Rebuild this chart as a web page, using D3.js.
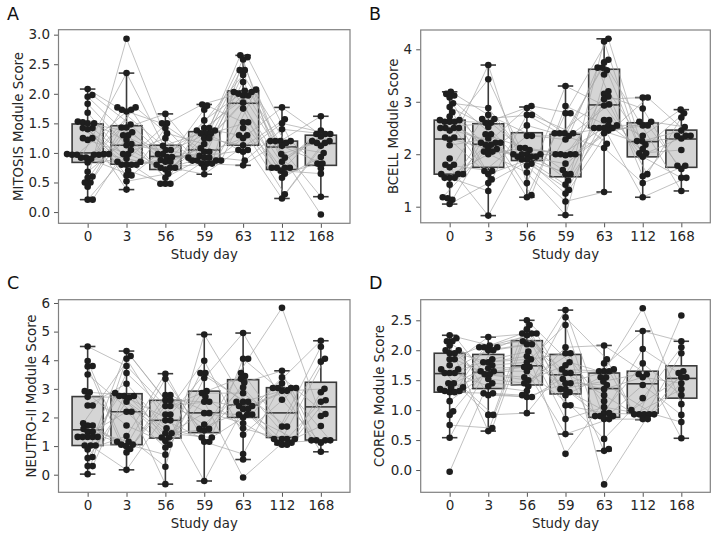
<!DOCTYPE html>
<html>
<head>
<meta charset="utf-8">
<script src="https://cdn.jsdelivr.net/npm/d3@7"></script>
<style>
  html, body { margin: 0; padding: 0; background: #fff; }
  svg { display: block; font-family: "DejaVu Sans", sans-serif; }
</style>
</head>
<body>
<svg id="chart" width="716" height="536"></svg>
<script>
// ---------------- data ----------------
const days = ["0", "3", "56", "59", "63", "112", "168"];

// box statistics per day: [lower whisker, Q1, median, Q3, upper whisker]
const mitosisBox = [
  [0.21, 0.84, 1.00, 1.49, 2.08], [0.38, 0.81, 1.13, 1.46, 2.35], [0.47, 0.72, 0.94, 1.13, 1.66],
  [0.64, 0.85, 1.05, 1.36, 1.82], [0.79, 1.13, 1.84, 2.05, 2.65], [0.23, 0.72, 1.10, 1.20, 1.77],
  [0.26, 0.79, 1.16, 1.30, 1.62]
];
const bcellBox = [
  [1.05, 1.62, 2.29, 2.65, 3.19], [0.83, 1.75, 2.19, 2.58, 3.70], [1.18, 1.88, 2.00, 2.41, 2.90],
  [0.84, 1.57, 1.99, 2.38, 3.30], [1.28, 2.50, 2.94, 3.62, 4.20], [1.18, 1.95, 2.24, 2.60, 3.08],
  [1.30, 1.75, 2.29, 2.46, 2.85]
];
const neutroBox = [
  [0.02, 1.02, 1.57, 2.73, 4.48], [0.17, 1.05, 2.20, 2.83, 4.32], [-0.33, 1.28, 1.90, 2.60, 3.53],
  [-0.22, 1.47, 2.16, 2.92, 4.90], [0.53, 2.00, 2.44, 3.32, 4.95], [1.05, 1.30, 2.16, 3.04, 3.63],
  [0.80, 1.21, 2.37, 3.23, 4.68]
];
const coregBox = [
  [0.54, 1.30, 1.61, 1.95, 2.25], [0.65, 1.36, 1.63, 1.93, 2.22], [0.95, 1.42, 1.74, 2.16, 2.50],
  [0.60, 1.27, 1.59, 1.93, 2.67], [0.32, 0.88, 1.36, 1.62, 2.08], [0.84, 0.95, 1.44, 1.65, 2.32],
  [0.53, 1.20, 1.53, 1.74, 2.15]
];

// individual subject scores per day
const mitosisPoints = [
  [2.08, 1.98, 1.95, 1.83, 1.68, 1.53, 1.52, 1.50, 1.50, 1.42, 1.42, 1.40, 1.25, 1.25, 1.22, 0.98, 0.98, 0.98, 0.97, 0.97, 0.97, 0.97, 0.92, 0.92, 0.90, 0.84, 0.68, 0.60, 0.58, 0.50, 0.50, 0.43, 0.21, 0.21],
  [2.93, 2.35, 1.77, 1.77, 1.73, 1.73, 1.70, 1.48, 1.43, 1.43, 1.35, 1.30, 1.30, 1.22, 1.15, 1.13, 1.05, 0.98, 0.98, 0.90, 0.85, 0.85, 0.80, 0.80, 0.80, 0.80, 0.70, 0.62, 0.62, 0.52, 0.38],
  [1.66, 1.50, 1.50, 1.42, 1.33, 1.25, 1.12, 1.05, 1.05, 0.98, 0.98, 0.93, 0.93, 0.88, 0.85, 0.85, 0.80, 0.75, 0.75, 0.75, 0.72, 0.65, 0.58, 0.48, 0.48, 0.48],
  [1.82, 1.80, 1.73, 1.55, 1.42, 1.42, 1.38, 1.38, 1.33, 1.33, 1.33, 1.25, 1.25, 1.15, 1.08, 1.02, 1.02, 0.95, 0.92, 0.92, 0.92, 0.87, 0.87, 0.87, 0.87, 0.82, 0.82, 0.82, 0.75, 0.64],
  [2.65, 2.62, 2.58, 2.40, 2.40, 2.32, 2.20, 2.07, 2.05, 2.03, 2.03, 2.00, 1.97, 1.97, 1.85, 1.75, 1.52, 1.52, 1.42, 1.30, 1.30, 1.25, 1.13, 1.05, 1.05, 1.02, 0.87, 0.79],
  [1.77, 1.57, 1.50, 1.40, 1.20, 1.20, 1.20, 1.20, 1.17, 1.12, 0.98, 0.92, 0.85, 0.75, 0.75, 0.75, 0.75, 0.70, 0.65, 0.58, 0.30, 0.23],
  [1.62, 1.38, 1.32, 1.32, 1.32, 1.28, 1.20, 1.20, 1.17, 1.17, 1.12, 1.00, 0.93, 0.82, 0.82, 0.74, 0.65, 0.26, -0.04]
];
const bcellPoints = [
  [3.19, 3.15, 3.12, 3.08, 2.97, 2.90, 2.80, 2.72, 2.65, 2.65, 2.62, 2.62, 2.62, 2.50, 2.50, 2.50, 2.50, 2.45, 2.32, 2.32, 2.28, 2.17, 1.92, 1.80, 1.80, 1.75, 1.62, 1.62, 1.62, 1.55, 1.55, 1.55, 1.42, 1.18, 1.16, 1.13, 1.05],
  [3.70, 3.43, 2.88, 2.75, 2.67, 2.67, 2.60, 2.60, 2.52, 2.38, 2.38, 2.30, 2.22, 2.22, 2.22, 2.18, 2.18, 2.10, 2.10, 2.05, 2.05, 2.00, 1.68, 1.68, 1.62, 1.52, 1.45, 1.30, 0.83],
  [2.92, 2.88, 2.75, 2.75, 2.55, 2.35, 2.35, 2.12, 2.12, 2.08, 2.00, 2.00, 2.00, 2.00, 1.95, 1.95, 1.95, 1.90, 1.90, 1.82, 1.78, 1.65, 1.45, 1.22, 1.18],
  [3.30, 2.92, 2.78, 2.78, 2.40, 2.40, 2.40, 2.40, 2.35, 2.28, 2.00, 2.00, 2.00, 2.00, 1.98, 1.82, 1.70, 1.62, 1.62, 1.50, 1.42, 1.32, 1.25, 1.10, 0.84],
  [4.20, 4.15, 3.80, 3.75, 3.65, 3.65, 3.60, 3.52, 3.20, 3.15, 3.10, 3.05, 2.95, 2.93, 2.65, 2.65, 2.55, 2.55, 2.50, 2.50, 2.50, 2.50, 2.45, 2.40, 2.20, 2.12, 1.28],
  [3.08, 3.08, 2.87, 2.62, 2.62, 2.55, 2.55, 2.35, 2.25, 2.25, 2.18, 2.10, 2.02, 2.02, 1.95, 1.62, 1.58, 1.45, 1.18],
  [2.85, 2.78, 2.70, 2.52, 2.45, 2.35, 2.35, 2.35, 2.30, 2.08, 1.78, 1.78, 1.72, 1.55, 1.55, 1.30]
];
const neutroPoints = [
  [4.48, 3.97, 3.80, 3.78, 3.50, 2.92, 2.88, 2.72, 2.42, 2.42, 1.80, 1.72, 1.72, 1.60, 1.50, 1.50, 1.32, 1.32, 1.32, 1.32, 1.32, 1.02, 1.02, 1.02, 0.88, 0.62, 0.58, 0.30, 0.30, 0.02],
  [4.32, 4.15, 4.05, 3.80, 3.55, 3.18, 2.85, 2.75, 2.75, 2.75, 2.70, 2.55, 2.20, 2.20, 1.72, 1.35, 1.15, 1.15, 1.05, 1.05, 1.00, 0.90, 0.78, 0.17],
  [3.53, 3.35, 2.78, 2.78, 2.60, 2.60, 2.40, 2.40, 2.10, 2.10, 1.90, 1.90, 1.62, 1.45, 1.45, 1.30, 1.30, 1.18, 1.05, 0.95, 0.70, 0.28, -0.33],
  [4.90, 3.98, 3.55, 3.55, 3.38, 2.92, 2.85, 2.72, 2.55, 2.55, 2.15, 2.15, 1.75, 1.60, 1.60, 1.55, 1.30, 1.30, 1.15, 1.15, -0.22],
  [4.95, 4.05, 4.05, 3.55, 3.45, 3.35, 3.22, 3.05, 2.85, 2.55, 2.55, 2.55, 2.40, 2.40, 2.30, 2.30, 2.10, 2.10, 2.10, 2.00, 1.80, 1.62, 1.40, 0.72, 0.53, -0.10],
  [5.83, 3.63, 3.40, 3.19, 3.03, 3.03, 3.03, 3.03, 2.93, 2.93, 2.62, 1.68, 1.68, 1.25, 1.25, 1.25, 1.25, 1.12, 1.12, 1.05, 1.05],
  [4.68, 4.47, 4.05, 3.95, 3.00, 2.88, 2.60, 2.55, 2.12, 2.05, 1.70, 1.20, 1.20, 1.20, 1.20, 1.12, 0.80]
];
const coregPoints = [
  [2.25, 2.20, 2.15, 2.15, 2.08, 2.00, 2.00, 1.95, 1.95, 1.85, 1.85, 1.75, 1.68, 1.68, 1.62, 1.62, 1.62, 1.45, 1.45, 1.38, 1.38, 1.35, 1.32, 1.32, 1.30, 1.30, 1.15, 0.98, 0.92, 0.75, 0.54, -0.03],
  [2.22, 2.08, 2.05, 2.05, 2.05, 2.00, 2.00, 1.85, 1.80, 1.80, 1.75, 1.70, 1.65, 1.65, 1.60, 1.60, 1.52, 1.45, 1.40, 1.28, 1.28, 1.25, 0.92, 0.92, 0.70, 0.65],
  [2.50, 2.42, 2.35, 2.28, 2.28, 2.28, 2.25, 2.15, 2.10, 2.10, 1.98, 1.90, 1.85, 1.80, 1.72, 1.72, 1.65, 1.55, 1.50, 1.45, 1.40, 1.32, 1.25, 1.22, 1.22, 0.95],
  [2.67, 2.55, 2.42, 2.05, 1.95, 1.95, 1.80, 1.75, 1.68, 1.62, 1.62, 1.52, 1.45, 1.45, 1.35, 1.35, 1.30, 1.25, 1.08, 1.08, 0.85, 0.60, 0.27],
  [2.08, 1.85, 1.78, 1.68, 1.65, 1.65, 1.65, 1.55, 1.55, 1.48, 1.42, 1.35, 1.25, 1.15, 1.05, 0.95, 0.95, 0.90, 0.90, 0.90, 0.85, 0.85, 0.52, 0.35, 0.32, -0.24],
  [2.70, 2.32, 2.02, 1.78, 1.60, 1.60, 1.55, 1.42, 1.20, 1.00, 0.93, 0.93, 0.93, 0.93, 0.93, 0.85, 0.85],
  [2.58, 2.15, 2.05, 1.95, 1.65, 1.62, 1.55, 1.55, 1.45, 1.35, 1.25, 1.10, 0.92, 0.80, 0.53]
];

const panelLetters = ["A", "B", "C", "D"];
const yLabels = ["MITOSIS Module Score", "BCELL Module Score", "NEUTRO-II Module Score", "COREG Module Score"];
const yTickValues = [
  [0, 0.5, 1, 1.5, 2, 2.5, 3],
  [1, 2, 3, 4],
  [0, 1, 2, 3, 4, 5, 6],
  [0, 0.5, 1, 1.5, 2, 2.5]
];
const yTickFormats = [".1f", "d", "d", ".1f"];
const yDomains = [[-0.19, 3.084], [0.693, 4.368], [-0.615, 6.115], [-0.372, 2.844]];

// ---------------- layout ----------------
const panels = [
  { box: mitosisBox, pts: mitosisPoints, x0: 58.5, x1: 350, y0: 29.7, y1: 223.3, letterX: 7, letterY: 19.5, labelX: 18.3, mult: 7 },
  { box: bcellBox, pts: bcellPoints, x0: 420.7, x1: 710.3, y0: 30, y1: 222.8, letterX: 369, letterY: 19.5, labelX: 393, mult: 5 },
  { box: neutroBox, pts: neutroPoints, x0: 58.5, x1: 350, y0: 299.7, y1: 492.3, letterX: 7, letterY: 288.5, labelX: 31.5, mult: 7 },
  { box: coregBox, pts: coregPoints, x0: 420.7, x1: 710.3, y0: 299.7, y1: 492.3, letterX: 369, letterY: 288.5, labelX: 379.3, mult: 5 }
];

const svg = d3.select("#chart");
const R = 3.3;        // marker radius
const D = 5.0;        // swarm collision distance
const textColor = "#262626";
const frameColor = "#808080";
const boxStroke = "#3a3a3a";

function gcd(a, b) { return b === 0 ? a : gcd(b, a % b); }

function swarm(vals, cx, y) {
  const pts = vals.map((v, i) => ({ v, i, y: y(v), dx: 0 }));
  const order = pts.slice().sort((a, b) => b.y - a.y);
  const placed = [];
  order.forEach(p => {
    const cands = [0];
    placed.forEach(q => {
      const dy = Math.abs(q.y - p.y);
      if (dy < D) {
        const dx = Math.sqrt(D * D - dy * dy);
        cands.push(q.dx + dx, q.dx - dx);
      }
    });
    cands.sort((a, b) => Math.abs(a) - Math.abs(b));
    for (const c of cands) {
      let ok = true;
      for (const q of placed) {
        const ddx = q.dx - c, ddy = q.y - p.y;
        if (ddx * ddx + ddy * ddy < D * D - 1e-6) { ok = false; break; }
      }
      if (ok) { p.dx = c; break; }
    }
    placed.push(p);
  });
  return pts.map(p => ({ v: p.v, x: cx + p.dx, y: p.y }));
}

panels.forEach((P, pi) => {
  const g = svg.append("g");
  const x = d3.scalePoint().domain(days).range([P.x0, P.x1]).padding(0.75);
  const y = d3.scaleLinear().domain(yDomains[pi]).range([P.y1, P.y0]);
  const step = x.step();
  const bw = step * 0.8;

  // axes
  const yAxis = d3.axisLeft(y).tickValues(yTickValues[pi]).tickFormat(d3.format(yTickFormats[pi])).tickSize(4.5).tickPadding(4);
  const xAxis = d3.axisBottom(x).tickSize(4.5).tickPadding(4);
  const ya = g.append("g").attr("transform", `translate(${P.x0},0)`).call(yAxis);
  const xa = g.append("g").attr("transform", `translate(0,${P.y1})`).call(xAxis);
  [ya, xa].forEach(a => {
    a.select(".domain").remove();
    a.selectAll(".tick line").attr("stroke", "#555").attr("stroke-width", 1);
    a.selectAll(".tick text").attr("fill", textColor).style("font-size", "13.5px").style("font-family", "DejaVu Sans");
  });

  // boxes
  const bg = g.append("g");
  P.box.forEach((b, di) => {
    const cx = x(days[di]);
    const [lo, q1, med, q3, hi] = b;
    bg.append("line").attr("x1", cx).attr("x2", cx).attr("y1", y(q3)).attr("y2", y(hi)).attr("stroke", boxStroke).attr("stroke-width", 1.6);
    bg.append("line").attr("x1", cx).attr("x2", cx).attr("y1", y(q1)).attr("y2", y(lo)).attr("stroke", boxStroke).attr("stroke-width", 1.6);
    bg.append("line").attr("x1", cx - bw / 4).attr("x2", cx + bw / 4).attr("y1", y(hi)).attr("y2", y(hi)).attr("stroke", boxStroke).attr("stroke-width", 1.6);
    bg.append("line").attr("x1", cx - bw / 4).attr("x2", cx + bw / 4).attr("y1", y(lo)).attr("y2", y(lo)).attr("stroke", boxStroke).attr("stroke-width", 1.6);
    bg.append("rect").attr("x", cx - bw / 2).attr("width", bw).attr("y", y(q3)).attr("height", y(q1) - y(q3))
      .attr("fill", "#d5d5d5").attr("stroke", boxStroke).attr("stroke-width", 1.6);
    bg.append("line").attr("x1", cx - bw / 2).attr("x2", cx + bw / 2).attr("y1", y(med)).attr("y2", y(med)).attr("stroke", boxStroke).attr("stroke-width", 1.6);
  });

  // swarm positions
  const placedDays = P.pts.map((vals, di) => swarm(vals, x(days[di]), y));

  // subject-to-point mapping for connecting lines
  const nMax = d3.max(P.pts, a => a.length);
  const idxOf = (s, di) => {
    const n = P.pts[di].length;
    if (s >= n) return -1;
    let m = P.mult;
    while (gcd(m, n) !== 1) m++;
    return (s * m + di * 3) % n;
  };
  const lg = g.append("g");
  for (let s = 0; s < nMax; s++) {
    for (let di = 0; di < days.length - 1; di++) {
      const a = idxOf(s, di), b = idxOf(s, di + 1);
      if (a < 0 || b < 0) continue;
      const pa = placedDays[di][a], pb = placedDays[di + 1][b];
      lg.append("line").attr("x1", pa.x).attr("y1", pa.y).attr("x2", pb.x).attr("y2", pb.y)
        .attr("stroke", "#a6a6a6").attr("stroke-width", 0.7);
    }
  }

  // points
  const pg = g.append("g");
  placedDays.forEach(arr => {
    pg.selectAll(null).data(arr).join("circle")
      .attr("cx", d => d.x).attr("cy", d => d.y).attr("r", R).attr("fill", "#1e1e1e");
  });

  // frame
  g.append("rect").attr("x", P.x0).attr("y", P.y0).attr("width", P.x1 - P.x0).attr("height", P.y1 - P.y0)
    .attr("fill", "none").attr("stroke", frameColor).attr("stroke-width", 1.2);

  // labels
  g.append("text").attr("x", (P.x0 + P.x1) / 2).attr("y", P.y1 + 36).attr("text-anchor", "middle")
    .attr("fill", textColor).style("font-size", "13.3px").text("Study day");
  g.append("text").attr("transform", `translate(${P.labelX},${(P.y0 + P.y1) / 2}) rotate(-90)`)
    .attr("dy", "0.35em").attr("text-anchor", "middle").attr("fill", textColor).style("font-size", "13.3px").text(yLabels[pi]);
  g.append("text").attr("x", P.letterX).attr("y", P.letterY).attr("fill", "#111").style("font-size", "17.5px").text(panelLetters[pi]);
});
</script>
</body>
</html>
